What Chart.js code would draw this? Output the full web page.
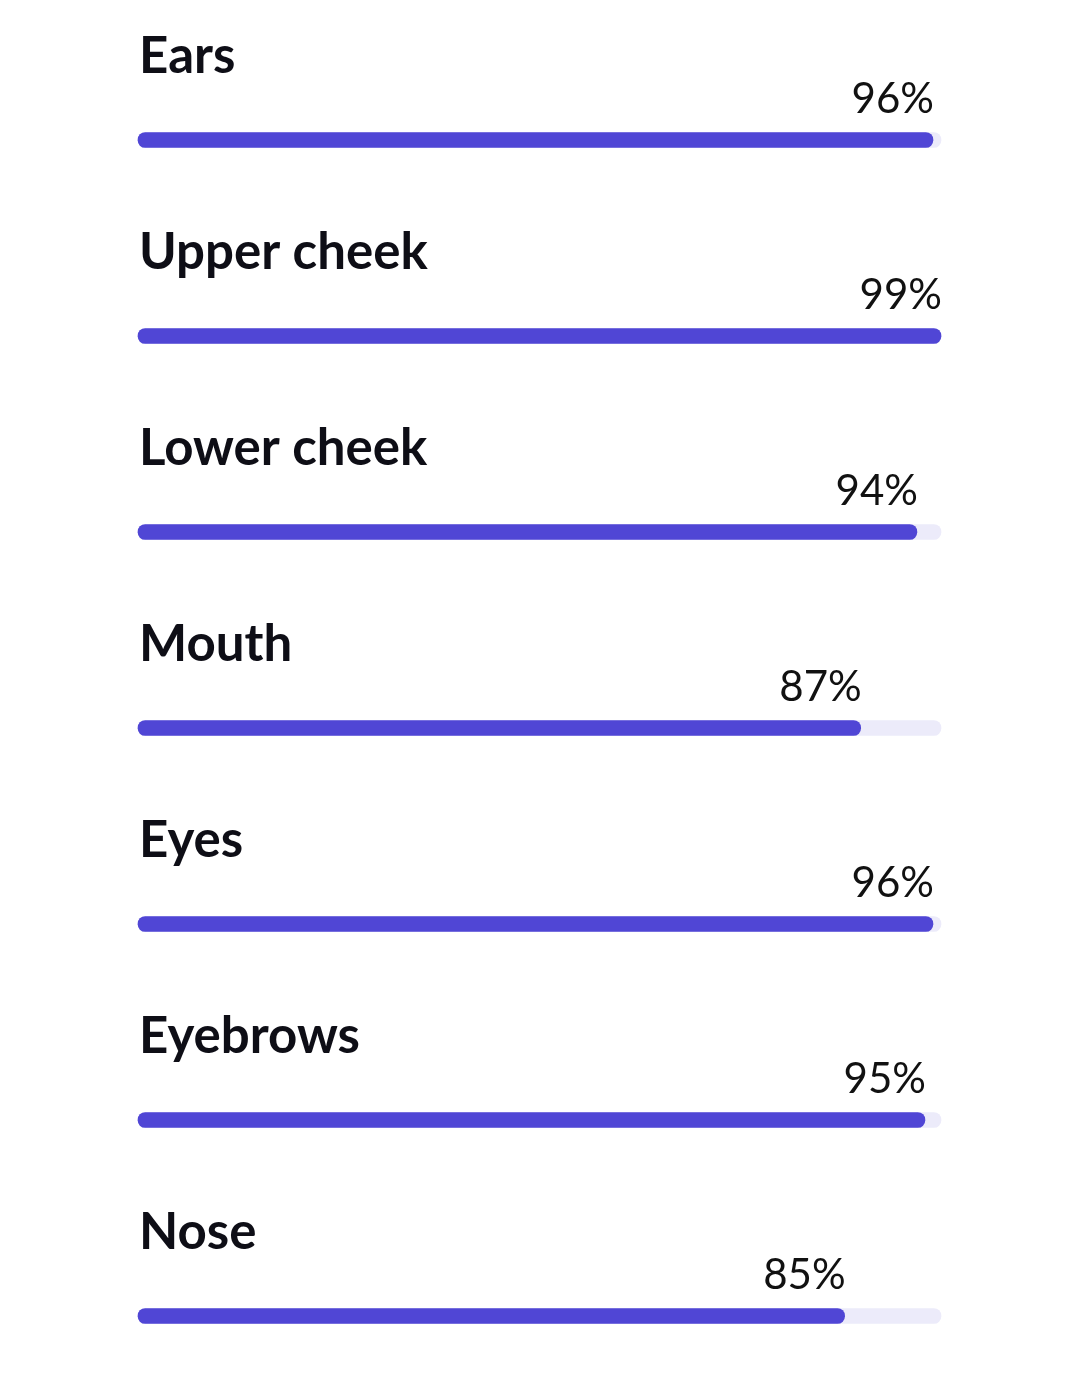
<!DOCTYPE html>
<html lang="en">
<head>
  <meta charset="UTF-8">
  <style>
    html, body { margin: 0; padding: 0; background: #fff; }
    .wrap { width: 1080px; height: 1398px; position: relative; }
  </style>
</head>
<body>
  <div class="wrap"><canvas id="myChart" width="1080" height="1398"></canvas></div>

<script src="https://cdn.jsdelivr.net/npm/chart.js"></script>
<script>
  // dados
  const parts = ['Ears', 'Upper cheek', 'Lower cheek', 'Mouth', 'Eyes', 'Eyebrows', 'Nose'];
  const scores = [96, 99, 94, 87, 96, 95, 85];          // texto mostrado
  const fillLength = [99, 100, 97, 90, 99, 98, 88];     // comprimento da barra preenchida
  const trackLength = [100, 100, 100, 100, 100, 100, 100];

  const fillColor = '#5046d5';
  const trackColor = '#ecebfa';

  // desenha os nomes e as percentagens
  const textPlugin = {
    id: 'textos',
    afterDatasetsDraw(chart) {
      const { ctx, scales } = chart;
      const x = scales.x, y = scales.y;
      ctx.save();
      parts.forEach((p, i) => {
        const cy = y.getPixelForValue(i);
        ctx.fillStyle = '#0e0e16';
        ctx.font = '700 51px Lato';
        ctx.textAlign = 'left';
        ctx.textBaseline = 'alphabetic';
        ctx.fillText(p, 139, cy - 67);

        ctx.fillStyle = '#111';
        ctx.font = '400 42px Lato';
        ctx.textAlign = 'right';
        ctx.fillText(scores[i] + '%', x.getPixelForValue(fillLength[i]) + 1, cy - 27);
      });
      ctx.restore();
    }
  };

  new Chart(document.getElementById('myChart'), {
    type: 'bar',
    data: {
      labels: parts,
      datasets: [{
        data: fillLength,
        backgroundColor: fillColor,
        grouped: false,
        order: 1,
        clip: false,
        barThickness: 15,
        borderRadius: 8,
        borderSkipped: false
      }, {
        data: trackLength,
        backgroundColor: trackColor,
        grouped: false,
        order: 2,
        clip: false,
        barThickness: 15,
        borderRadius: 8,
        borderSkipped: false
      }]
    },
    options: {
      indexAxis: 'y',
      responsive: false,
      animation: false,
      layout: { padding: { left: 138, right: 139, top: 140, bottom: 82 } },
      scales: {
        x: { min: 0, max: 100, display: false },
        y: { display: false, offset: false }
      },
      plugins: {
        legend: { display: false },
        tooltip: { enabled: false }
      }
    },
    plugins: [textPlugin]
  });
</script>
</body>
</html>
